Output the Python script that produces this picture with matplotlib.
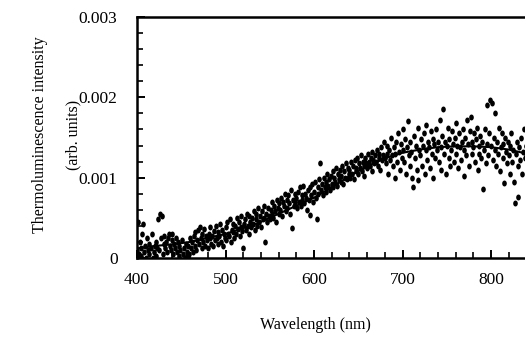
import matplotlib
matplotlib.use("Agg")
import matplotlib.pyplot as plt
import numpy as np
from matplotlib.ticker import MultipleLocator, FixedLocator
from matplotlib.path import Path

plt.rcParams['font.family'] = ['Liberation Serif', 'DejaVu Serif']

wavelength = [
    400, 401, 402, 403, 404, 405, 406, 407, 408, 409,
    410, 411, 412, 413, 414, 415, 416, 417, 418, 419,
    420, 421, 422, 423, 424, 425, 426, 427, 428, 429,
    430, 431, 432, 433, 434, 435, 436, 437, 438, 439,
    440, 441, 442, 443, 444, 445, 446, 447, 448, 449,
    450, 451, 452, 453, 454, 455, 456, 457, 458, 459,
    460, 461, 462, 463, 464, 465, 466, 467, 468, 469,
    470, 471, 472, 473, 474, 475, 476, 477, 478, 479,
    480, 481, 482, 483, 484, 485, 486, 487, 488, 489,
    490, 491, 492, 493, 494, 495, 496, 497, 498, 499,
    500, 501, 502, 503, 504, 505, 506, 507, 508, 509,
    510, 511, 512, 513, 514, 515, 516, 517, 518, 519,
    520, 521, 522, 523, 524, 525, 526, 527, 528, 529,
    530, 531, 532, 533, 534, 535, 536, 537, 538, 539,
    540, 541, 542, 543, 544, 545, 546, 547, 548, 549,
    550, 551, 552, 553, 554, 555, 556, 557, 558, 559,
    560, 561, 562, 563, 564, 565, 566, 567, 568, 569,
    570, 571, 572, 573, 574, 575, 576, 577, 578, 579,
    580, 581, 582, 583, 584, 585, 586, 587, 588, 589,
    590, 591, 592, 593, 594, 595, 596, 597, 598, 599,
    600, 601, 602, 603, 604, 605, 606, 607, 608, 609,
    610, 611, 612, 613, 614, 615, 616, 617, 618, 619,
    620, 621, 622, 623, 624, 625, 626, 627, 628, 629,
    630, 631, 632, 633, 634, 635, 636, 637, 638, 639,
    640, 641, 642, 643, 644, 645, 646, 647, 648, 649,
    650, 651, 652, 653, 654, 655, 656, 657, 658, 659,
    660, 661, 662, 663, 664, 665, 666, 667, 668, 669,
    670, 671, 672, 673, 674, 675, 676, 677, 678, 679,
    680, 681, 682, 683, 684, 685, 686, 687, 688, 689,
    690, 691, 692, 693, 694, 695, 696, 697, 698, 699,
    700, 701, 702, 703, 704, 705, 706, 707, 708, 709,
    710, 711, 712, 713, 714, 715, 716, 717, 718, 719,
    720, 721, 722, 723, 724, 725, 726, 727, 728, 729,
    730, 731, 732, 733, 734, 735, 736, 737, 738, 739,
    740, 741, 742, 743, 744, 745, 746, 747, 748, 749,
    750, 751, 752, 753, 754, 755, 756, 757, 758, 759,
    760, 761, 762, 763, 764, 765, 766, 767, 768, 769,
    770, 771, 772, 773, 774, 775, 776, 777, 778, 779,
    780, 781, 782, 783, 784, 785, 786, 787, 788, 789,
    790, 791, 792, 793, 794, 795, 796, 797, 798, 799,
    800, 801, 802, 803, 804, 805, 806, 807, 808, 809,
    810, 811, 812, 813, 814, 815, 816, 817, 818, 819,
    820, 821, 822, 823, 824, 825, 826, 827, 828, 829,
    830, 831, 832, 833, 834, 835, 836, 837, 838, 839,
    840,
]

# intensity in units of 0.001 (arb. units)
intensity_milli = [
    0.10, 0.45, 0.05, 0.20, 0.12, 0.02, 0.30, 0.42, 0.08, 0.15,
    0.00, 0.25, 0.10, 0.05, 0.18, -0.02, 0.12, 0.30, 0.00, 0.08,
    0.15, 0.02, 0.20, 0.12, 0.48, 0.10, 0.55, 0.25, 0.52, 0.05,
    0.18, 0.28, 0.12, 0.20, 0.08, 0.25, 0.30, 0.15, 0.10, 0.22,
    0.30, 0.05, 0.18, 0.12, 0.25, 0.08, 0.20, 0.15, 0.02, 0.10,
    -0.02, 0.22, 0.05, 0.12, 0.00, 0.18, 0.08, 0.02, 0.15, 0.05,
    0.25, 0.12, 0.20, 0.08, 0.28, 0.15, 0.32, 0.10, 0.22, 0.35,
    0.18, 0.38, 0.25, 0.12, 0.30, 0.20, 0.36, 0.15, 0.28, 0.22,
    0.12, 0.30, 0.25, 0.38, 0.18, 0.28, 0.15, 0.33, 0.22, 0.40,
    0.25, 0.18, 0.32, 0.28, 0.42, 0.20, 0.35, 0.15, 0.30, 0.25,
    0.38, 0.22, 0.45, 0.30, 0.28, 0.48, 0.20, 0.35, 0.42, 0.32,
    0.25, 0.40, 0.30, 0.50, 0.36, 0.45, 0.28, 0.38, 0.52, 0.33,
    0.12, 0.42, 0.48, 0.35, 0.55, 0.40, 0.30, 0.52, 0.45, 0.38,
    0.50, 0.42, 0.58, 0.35, 0.48, 0.55, 0.40, 0.62, 0.45, 0.52,
    0.38, 0.58, 0.48, 0.65, 0.50, 0.20, 0.55, 0.45, 0.62, 0.52,
    0.48, 0.60, 0.55, 0.70, 0.50, 0.65, 0.58, 0.45, 0.72, 0.62,
    0.55, 0.68, 0.60, 0.75, 0.52, 0.70, 0.65, 0.80, 0.58, 0.72,
    0.62, 0.78, 0.68, 0.55, 0.85, 0.37, 0.72, 0.65, 0.80, 0.70,
    0.75, 0.62, 0.82, 0.70, 0.88, 0.65, 0.78, 0.72, 0.90, 0.68,
    0.80, 0.75, 0.60, 0.85, 0.72, 0.53, 0.88, 0.78, 0.92, 0.70,
    0.82, 0.95, 0.75, 0.48, 0.88, 0.80, 0.98, 1.18, 0.85, 0.92,
    0.78, 1.00, 0.88, 0.95, 0.82, 1.05, 0.90, 0.98, 0.85, 1.02,
    0.92, 1.08, 0.88, 1.00, 0.95, 1.12, 0.90, 1.05, 0.98, 1.10,
    0.95, 1.02, 1.15, 0.92, 1.08, 1.00, 1.18, 0.98, 1.12, 1.05,
    1.10, 1.00, 1.20, 1.05, 1.15, 0.98, 1.22, 1.08, 1.12, 1.25,
    1.05, 1.18, 1.12, 1.28, 1.08, 1.20, 1.15, 1.02, 1.25, 1.18,
    1.12, 1.30, 1.20, 1.15, 1.25, 1.08, 1.32, 1.22, 1.18, 1.28,
    1.20, 1.35, 1.15, 1.25, 1.30, 1.10, 1.38, 1.22, 1.28, 1.45,
    1.25, 1.18, 1.40, 1.30, 1.05, 1.35, 1.22, 1.50, 1.28, 1.15,
    1.38, 1.00, 1.30, 1.45, 1.20, 1.55, 1.32, 1.10, 1.42, 1.25,
    1.35, 1.60, 1.20, 1.48, 1.05, 1.38, 1.70, 1.28, 1.15, 1.45,
    1.32, 1.00, 0.88, 1.52, 1.25, 1.40, 1.10, 0.97, 1.62, 1.35,
    1.28, 1.48, 1.15, 1.40, 1.55, 1.05, 1.35, 1.65, 1.22, 1.45,
    1.38, 1.12, 1.58, 1.30, 1.48, 1.00, 1.42, 1.25, 1.60, 1.35,
    1.45, 1.20, 1.72, 1.38, 1.10, 1.52, 1.85, 1.30, 1.45, 1.05,
    1.40, 1.62, 1.25, 1.48, 1.15, 1.35, 1.58, 1.42, 1.20, 1.50,
    1.30, 1.68, 1.40, 1.12, 1.55, 1.38, 1.22, 1.45, 1.60, 1.02,
    1.35, 1.50, 1.28, 1.72, 1.42, 1.15, 1.58, 1.75, 1.30, 1.45,
    1.38, 1.55, 1.20, 1.48, 1.62, 1.10, 1.40, 1.30, 1.52, 1.25,
    1.45, 0.86, 1.35, 1.60, 1.18, 1.42, 1.90, 1.28, 1.55, 1.97,
    1.40, 1.93, 1.22, 1.50, 1.35, 1.80, 1.15, 1.45, 1.30, 1.62,
    1.08, 1.38, 1.55, 1.25, 1.42, 0.93, 1.50, 1.32, 1.18, 1.45,
    1.28, 1.40, 1.05, 1.55, 1.20, 1.35, 0.95, 0.68, 1.30, 1.45,
    1.15, 0.76, 1.38, 1.22, 1.50, 1.05, 1.32, 1.60, 1.25, 1.40,
    1.30,
]

fit_wavelength = [400, 420, 440, 460, 480, 500, 520, 540, 560, 580, 600,
                  620, 640, 660, 680, 700, 720, 740, 760, 780, 800, 820, 840]
fit_milli = [0.12, 0.15, 0.17, 0.20, 0.25, 0.30, 0.37, 0.45, 0.55, 0.65, 0.75,
             0.88, 1.02, 1.14, 1.24, 1.31, 1.35, 1.38, 1.39, 1.39, 1.38, 1.35, 1.30]

y_ticks = [0, 0.001, 0.002, 0.003]
y_tick_labels = ["0", "0.001", "0.002", "0.003"]
x_ticks = [400, 500, 600, 700, 800]

# slightly tall elliptical dot marker
_t = np.linspace(0, 2 * np.pi, 25)
ellipse = Path(np.column_stack([0.78 * np.cos(_t), np.sin(_t)]), closed=True)

W, H = 525, 338
fig = plt.figure(figsize=(W / 100, H / 100), dpi=100)
ax = fig.add_axes([137 / W, 80 / H, (W - 137) / W, (258 - 17) / H])

ax.plot(np.array(wavelength), np.array(intensity_milli) * 1e-3,
        linestyle='none', marker=ellipse, color='black', ms=4.3, mew=0)
ax.plot(np.array(fit_wavelength), np.array(fit_milli) * 1e-3, '-',
        color='black', lw=1.5)

ax.set_xlim(400, 400 + (W - 137) / 0.885)
ax.set_ylim(0, 0.003)

ax.spines['right'].set_visible(False)
for s in ['left', 'top', 'bottom']:
    ax.spines[s].set_linewidth(1.8)

ax.xaxis.set_major_locator(FixedLocator(x_ticks))
ax.xaxis.set_minor_locator(MultipleLocator(20))
ax.yaxis.set_major_locator(FixedLocator(y_ticks))
ax.yaxis.set_minor_locator(MultipleLocator(0.0002))
ax.set_yticklabels(y_tick_labels)
ax.tick_params(which='major', direction='in', length=6, width=1.4,
               labelsize=12.5, top=False, right=False)
ax.tick_params(which='minor', direction='in', length=4, width=1.2,
               top=False, right=False)
ax.tick_params(axis='y', which='major', pad=14)
ax.tick_params(axis='x', which='major', pad=10)

fig.text(40 / W, 1 - 135 / H, "Thermoluminescence intensity", rotation=90,
         ha='center', va='center', fontsize=11.5)
fig.text(73 / W, 1 - 135 / H, "(arb. units)", rotation=90,
         ha='center', va='center', fontsize=11.5)
fig.text(315 / W, 1 - 325 / H, "Wavelength (nm)", ha='center', va='center',
         fontsize=11.5)

fig.savefig("out.png", dpi=100)
